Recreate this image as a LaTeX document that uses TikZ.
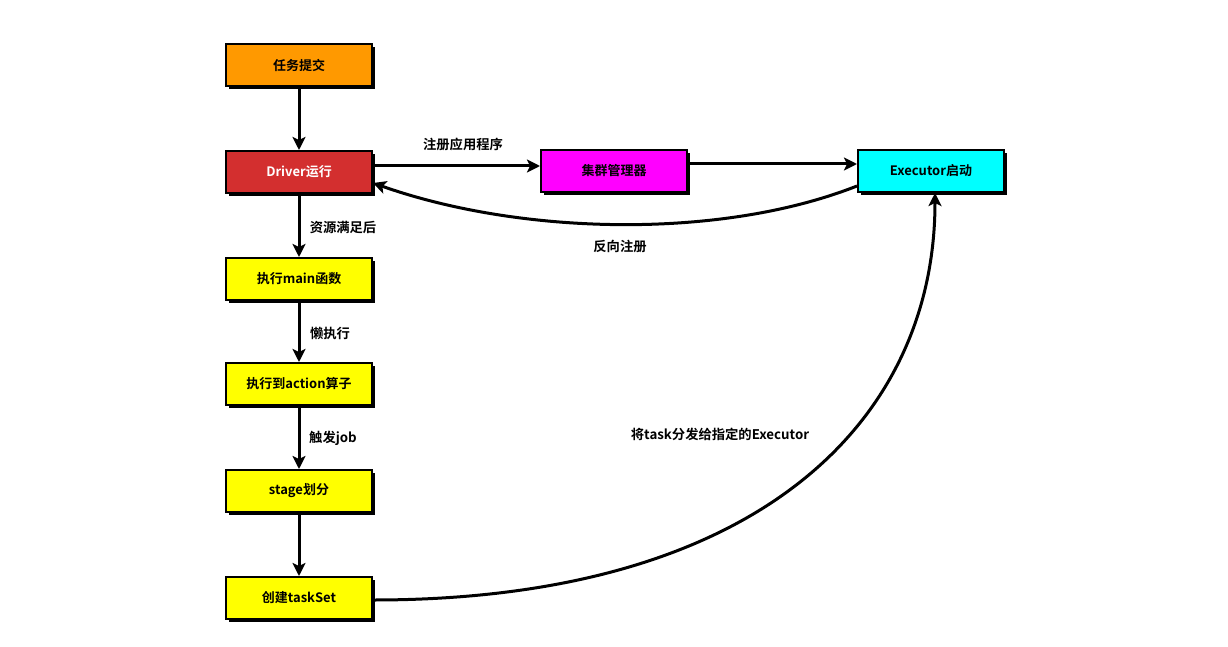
\documentclass[tikz,border=0pt]{standalone}
\usepackage{fontspec}
\setmainfont{Noto Sans CJK SC}[BoldFont={Noto Sans CJK SC Bold}]
\usetikzlibrary{arrows.meta,shadows}
\definecolor{cOrange}{HTML}{FF9900}
\definecolor{cRed}{HTML}{D32F2F}
\definecolor{cMag}{HTML}{FF00FF}
\definecolor{cCyan}{HTML}{00FFFF}
\definecolor{cYel}{HTML}{FFFF00}
\tikzset{
  box/.style={draw=black, line width=2pt, minimum width=146pt, minimum height=42pt,
    inner sep=0pt, font=\fontsize{13}{15}\selectfont\bfseries,
    drop shadow={shadow xshift=3pt, shadow yshift=-3pt, fill=black, opacity=1}},
  conn/.style={line width=3pt, -{Stealth[length=13pt,width=13pt,inset=3pt]}},
  lbl/.style={font=\fontsize{13.3}{15}\selectfont\bfseries, inner sep=0pt}
}
\begin{document}
\begin{tikzpicture}[x=1pt,y=-1pt]
\useasboundingbox (0,0) rectangle (1228,647);
\node[box, fill=cOrange] (submit) at (299,65) {任务提交};
\node[box, fill=cRed, text=white] (driver) at (299,172) {Driver运行};
\node[box, fill=cYel] (main) at (299,279) {执行main函数};
\node[box, fill=cYel] (action) at (299,384) {执行到action算子};
\node[box, fill=cYel] (stage) at (299,491) {stage划分};
\node[box, fill=cYel] (taskset) at (299,598) {创建taskSet};
\node[box, fill=cMag] (cm) at (614,171) {集群管理器};
\node[box, fill=cCyan] (exec) at (931,171) {Executor启动};

\draw[conn] (submit) -- (driver);
\draw[conn] (driver) -- (main);
\draw[conn] (main) -- (action);
\draw[conn] (action) -- (stage);
\draw[conn] (stage) -- (taskset);
\draw[conn] (driver.east |- 0,166) -- (cm.west |- 0,166);
\draw[conn] (cm.east |- 0,164) -- (exec.west |- 0,164);
\draw[conn] (exec.west |- 0,186) .. controls (720,240) and (520,235) .. (driver.east |- 0,183);
\draw[conn] (taskset.east |- 0,600) .. controls (760,600) and (935,420) .. (exec.south -| 935,0);

\node[lbl] (l1) at (463,144) {注册应用程序};
\node[lbl] (l2) at (343,227) {资源满足后};
\node[lbl] (l3) at (330,333) {懒执行};
\node[lbl] (l4) at (333,438) {触发job};
\node[lbl] (l5) at (620,246) {反向注册};
\node[lbl] (l6) at (720,434) {将task分发给指定的Executor};
\end{tikzpicture}
\end{document}
